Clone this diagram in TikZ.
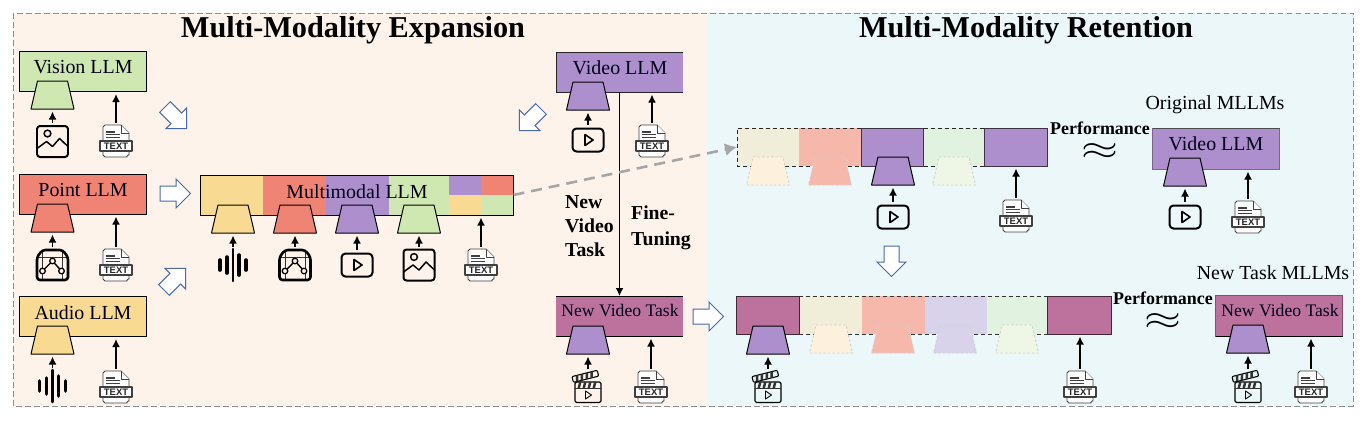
\documentclass[tikz,border=0pt]{standalone}
\usepackage{fontspec}
\setmainfont{Liberation Serif}
\newfontfamily\docfont{Liberation Sans}
\usetikzlibrary{arrows.meta}
\definecolor{cgreen}{HTML}{CFE8B2}
\definecolor{cred}{HTML}{F08474}
\definecolor{cpurple}{HTML}{AE8FCE}
\definecolor{cyellow}{HTML}{F9DA92}
\definecolor{cmag}{HTML}{BC729C}
\definecolor{pyellow}{HTML}{F0EED8}
\definecolor{ptrap}{HTML}{FDF1DE}
\definecolor{ppink}{HTML}{F7B8AC}
\definecolor{plav}{HTML}{D8D2EA}
\definecolor{pgreen}{HTML}{E2F2E0}
\definecolor{pgtrap}{HTML}{EEF6E6}
\definecolor{bgl}{HTML}{FEF3EB}
\definecolor{bgr}{HTML}{ECF7F9}
\definecolor{hollowblue}{HTML}{4A6AA5}
\tikzset{
  x=1bp,y=-1bp,
  llmbox/.style={draw=black,line width=1pt,inner sep=0pt,outer sep=0pt,minimum width=127bp,minimum height=40bp,fill=#1},
  softbox/.style={draw=#1!70!black,line width=.7pt,inner sep=0pt,outer sep=0pt,minimum width=127bp,minimum height=41bp,fill=#1},
  llmtext/.style={font=\fontsize{20}{20}\selectfont,inner sep=0pt,text=black!90!blue},
  tasktext/.style={font=\fontsize{17.7}{17.7}\selectfont,inner sep=0pt,text=black!90!blue},
  seg/.style={inner sep=0pt,outer sep=0pt,fill=#1},
  fullseg/.style={draw=#1!35!black,line width=1pt,inner sep=0pt,outer sep=0pt,fill=#1},
  boldlab/.style={font=\fontsize{19.8}{24}\selectfont\bfseries,inner sep=0pt,align=left,anchor=west},
  perf/.style={font=\fontsize{18}{18}\selectfont\bfseries,inner sep=0pt},
  apx/.style={font=\fontsize{20}{20}\selectfont,inner sep=0pt,xscale=2.3,yscale=1.6,transform shape},
  arr/.style={-{Latex[length=8bp,width=8bp]},line width=1.6pt,black,shorten >=2.5bp,shorten <=2.5bp},
  trapline/.style={draw=black,line width=1pt,line join=round},
  ghostline/.style={draw=black!18,line width=.8pt,dash pattern=on 2.5bp off 2bp},
  iconline/.style={draw=black,line width=2pt,line join=round,line cap=round},
  docline/.style={draw=black!75,line width=.9pt,line join=round},
  hollowarr/.style={draw=hollowblue,line width=1pt,fill=white,line join=miter},
}
\newcommand{\traph}[5]{%
  \path[#5,fill=#4] (#2-15,#3) -- (#2+15,#3) -- (#2+21.5,#3+28) -- (#2-21.5,#3+28) -- cycle;
  \node[inner sep=0pt,outer sep=0pt,minimum width=43bp,minimum height=28bp] (#1) at (#2,#3+14) {};}
\newcommand{\docicon}[3]{%
  \node[inner sep=0pt,outer sep=0pt,minimum width=32bp,minimum height=32bp] (#1) at (#2,#3) {};
  \begin{scope}[shift={(#2,#3)}]
    \path[docline,fill=white] (-13,-1) -- (-13,-14) to[out=-90,in=180] (-11,-16) -- (5,-16) -- (13,-8) -- (13,-1);
    \path[docline,fill=white] (5,-16) -- (5,-8) -- (13,-8);
    \draw[black!75,line width=1.5pt] (-10,-9) -- (-1,-9);
    \draw[black!75,line width=1pt] (-10,-6.5) -- (4,-6.5) (-10,-4) -- (4,-4);
    \path[docline,fill=white] (-13,10) -- (-13,14) to[out=90,in=180] (-11,16) -- (11,16) to[out=180,in=90] (13,14) -- (13,10);
    \path[docline,fill=white,line width=1.1pt] (-16,0) rectangle (16,10);
    \node[inner sep=0pt,font=\docfont\bfseries\fontsize{9.5}{9.5}\selectfont,text=black!85] (#1t) at (0,5.2) {TEXT};
  \end{scope}}
\newcommand{\imgicon}[3]{%
  \node[inner sep=0pt,outer sep=0pt,minimum width=32bp,minimum height=32bp] (#1) at (#2,#3) {};
  \begin{scope}[shift={(#2,#3)}]
    \draw[iconline,rounded corners=3bp] (-15.5,-15.5) -- (15.5,-15.5) -- (15.5,15.5) -- (-15.5,15.5) -- cycle;
    \draw[iconline,line width=1.5pt] (-5,-8) circle (3.4);
    \draw[iconline,line width=1.5pt] (-15.5,7) -- (-6,0) -- (0,5) -- (7,-3) -- (15.5,5);
  \end{scope}}
\newcommand{\playicon}[3]{%
  \node[inner sep=0pt,outer sep=0pt,minimum width=32bp,minimum height=26bp] (#1) at (#2,#3) {};
  \begin{scope}[shift={(#2,#3)}]
    \draw[iconline,rounded corners=4bp] (-15.5,-11.5) -- (15.5,-11.5) -- (15.5,11.5) -- (-15.5,11.5) -- cycle;
    \draw[iconline,line width=1.6pt] (-3,-5.5) -- (5,0) -- (-3,5.5) -- cycle;
  \end{scope}}
\newcommand{\pointicon}[3]{%
  \node[inner sep=0pt,outer sep=0pt,minimum width=32bp,minimum height=32bp] (#1) at (#2,#3) {};
  \begin{scope}[shift={(#2,#3)}]
    \draw[black!80,line width=.8pt] (-15,-8) -- (15,-8) (-10,-15) -- (-10,15) (10,-15) -- (10,15);
    \draw[iconline,line width=2.6pt,rounded corners=3bp] (-10,-15) -- (10,-15) -- (15.5,-8) -- (15.5,15) -- (-15.5,15) -- (-15.5,-8) -- cycle;
    \draw[iconline,line width=1.4pt] (-10,6) -- (0,-4) -- (9,6);
    \draw[iconline,line width=1.3pt,fill=bgl] (-10,6) circle (2.8) (0,-4) circle (2.8) (9,6) circle (2.8);
  \end{scope}}
\newcommand{\audioicon}[3]{%
  \node[inner sep=0pt,outer sep=0pt,minimum width=30bp,minimum height=32bp] (#1) at (#2,#3) {};
  \begin{scope}[shift={(#2,#3)}]
    \draw[black,line width=3.6pt,line cap=round] (-13,-5) -- (-13,5) (13,-5) -- (13,5) (-6,-8) -- (-6,8) (6,-10) -- (6,10);
    \draw[black,line width=2.6pt,line cap=round] (0,-16) -- (0,16);
  \end{scope}}
\newcommand{\clapicon}[3]{%
  \node[inner sep=0pt,outer sep=0pt,minimum width=30bp,minimum height=32bp] (#1) at (#2,#3) {};
  \begin{scope}[shift={(#2,#3)}]
    \begin{scope}[rotate=14]
      \draw[iconline,line width=1.1pt,rounded corners=1bp] (-13,-14) rectangle (13,-8);
      \foreach \q in {-9,-4,1,6}{\fill[black!80] (\q,-14) -- (\q+2.5,-14) -- (\q+1,-8) -- (\q-1.5,-8) -- cycle;}
    \end{scope}
    \draw[iconline,line width=1.1pt,rounded corners=1.5bp] (-13,-5) -- (13,-5) -- (13,15.5) -- (-13,15.5) -- cycle;
    \draw[black!80,line width=.9pt] (-13,1) -- (13,1);
    \foreach \q in {-9,-4,1,6}{\fill[black!80] (\q,-5) -- (\q+2.5,-5) -- (\q+1,1) -- (\q-1.5,1) -- cycle;}
    \draw[iconline,line width=.9pt] (-2.5,4) -- (3.5,8) -- (-2.5,12) -- cycle;
  \end{scope}}
\newcommand{\hollow}[4]{%
  \begin{scope}[shift={(#2,#3)},rotate=#4]
    \path[hollowarr] (0,-7.5) -- (16,-7.5) -- (16,-14.5) -- (30.5,0) -- (16,14.5) -- (16,7.5) -- (0,7.5) -- cycle;
    \coordinate (#1) at (15,0);
  \end{scope}}
\begin{document}
\begin{tikzpicture}
\useasboundingbox (0,0) rectangle (1368,424);
\fill[white] (0,0) rectangle (1368,424);
\fill[bgl] (13,13) rectangle (708,406);
\fill[bgr] (708,13) rectangle (1353,406);
\draw[black!45,line width=1pt,dash pattern=on 5.5bp off 3.5bp] (13,13) rectangle (1353,406);
\node[font=\fontsize{30.4}{30.4}\selectfont\bfseries,inner sep=0pt] (t1) at (353,30) {Multi-Modality Expansion};
\node[font=\fontsize{30.4}{30.4}\selectfont\bfseries,inner sep=0pt] (t2) at (1026,30) {Multi-Modality Retention};

% ---- left LLMs
\node[llmbox=cgreen] (vis) at (83,71.5) {};
\node[llmtext] (visL) at (83,67) {Vision LLM};
\traph{visT}{52.5}{81}{cgreen}{trapline}
\imgicon{visI}{52.5}{141.5}
\docicon{visD}{116}{141}
\draw[arr] (visI) -- (visT);
\draw[arr] (visD.north) -- (visD.north |- vis.south);

\node[llmbox=cred] (pnt) at (83,194) {};
\node[llmtext] (pntL) at (83,190) {Point LLM};
\traph{pntT}{52.5}{204}{cred}{trapline}
\pointicon{pntI}{52.5}{265}
\docicon{pntD}{116}{265}
\draw[arr] (pntI) -- (pntT);
\draw[arr] (pntD.north) -- (pntD.north |- pnt.south);

\node[llmbox=cyellow] (aud) at (83,316.5) {};
\node[llmtext] (audL) at (83,312.5) {Audio LLM};
\traph{audT}{52.5}{326}{cyellow}{trapline}
\audioicon{audI}{52.5}{386}
\docicon{audD}{116}{387}
\draw[arr] (audI) -- (audT);
\draw[arr] (audD.north) -- (audD.north |- aud.south);

\hollow{h1}{165}{107}{-45}
\hollow{h2}{160}{193.5}{0}
\hollow{h3}{164}{290}{45}

% ---- multimodal
\fill[cyellow] (200,175) rectangle (263,215);
\fill[cred] (263,175) rectangle (326,215);
\fill[cpurple] (326,175) rectangle (389,215);
\fill[cgreen] (389,175) rectangle (449,215);
\fill[cpurple] (449,175) rectangle (481,195);
\fill[cred] (481,175) rectangle (513.5,195);
\fill[cyellow] (449,195) rectangle (481,215);
\fill[cgreen] (481,195) rectangle (513.5,215);
\node[draw=black,line width=1pt,inner sep=0pt,outer sep=0pt,minimum width=313.5bp,minimum height=40bp] (mm) at (356.75,195) {};
\node[llmtext] (mmL) at (357,192) {Multimodal LLM};
\traph{m1}{233}{205}{cyellow}{trapline}
\traph{m2}{295}{205}{cred}{trapline}
\traph{m3}{357}{205}{cpurple}{trapline}
\traph{m4}{419}{205}{cgreen}{trapline}
\audioicon{mI1}{233}{265}
\pointicon{mI2}{295}{265}
\playicon{mI3}{357}{265}
\imgicon{mI4}{419}{265}
\docicon{mD}{481}{265}
\draw[arr] (mI1) -- (m1);
\draw[arr] (mI2) -- (m2);
\draw[arr] (mI3) -- (m3);
\draw[arr] (mI4) -- (m4);
\draw[arr] (mD.north) -- (mD.north |- mm.south);

% ---- video column
\path[fill=cpurple] (556,52) rectangle (683,92);
\draw[black!85,line width=1pt] (683,52) -- (556,52) -- (556,92) -- (683,92);
\node[inner sep=0pt,outer sep=0pt,minimum width=127bp,minimum height=40bp] (vid) at (619.5,72) {};
\node[llmtext] (vidL) at (620,68) {Video LLM};
\traph{vidT}{588}{82}{cpurple}{trapline}
\playicon{vidI}{588}{140}
\docicon{vidD}{652}{141}
\draw[arr] (vidI) -- (vidT);
\draw[arr] (vidD.north) -- (vidD.north |- vid.south);

\node[llmbox=cmag,draw=none] (nvt) at (619.5,316) {};
\draw[black,line width=1pt] (nvt.north west) -- (nvt.north east) (nvt.south west) -- (nvt.south east);
\node[tasktext] (nvtL) at (620,311) {New Video Task};
\traph{nvtT}{588}{326}{cpurple}{trapline}
\clapicon{nvtI}{588}{387}
\docicon{nvtD}{651}{387}
\draw[arr] (nvtI) -- (nvtT);
\draw[arr] (nvtD.north) -- (nvtD.north |- nvt.south);
\draw[arr,line width=1.7pt,shorten >=0bp,shorten <=0bp] (vid.south) -- (nvt.north);
\node[boldlab] (l1) at (565,226) {New\\Video\\Task};
\node[boldlab,font=\fontsize{19.8}{26}\selectfont\bfseries] (l2) at (631,228) {Fine-\\Tuning};
\hollow{h4}{541}{109}{-135}
\hollow{h5}{693}{316.5}{0}

% ---- retention row 1
\node[seg=pyellow,minimum width=62bp,minimum height=38bp] (r1) at (768,147) {};
\node[seg=ppink,minimum width=62bp,minimum height=38bp] (r2) at (830,147) {};
\node[seg=pgreen,minimum width=62bp,minimum height=38bp] (r4) at (954.5,147) {};
\draw[black!85,line width=.9pt,dash pattern=on 4bp off 3bp] (r2.north east) -- (r1.north west) -- (r1.south west) -- (r2.south east) (r4.north west) -- (r4.north east) (r4.south west) -- (r4.south east);
\node[fullseg=cpurple,minimum width=62.5bp,minimum height=38bp] (r3) at (892.5,147) {};
\node[fullseg=cpurple,minimum width=62.5bp,minimum height=38bp] (r5) at (1016,147) {};
\traph{rT1}{768}{157}{ptrap}{ghostline}
\traph{rT2}{830}{157}{ppink}{ghostline}
\traph{rT3}{893}{157}{cpurple}{trapline}
\traph{rT4}{954}{157}{pgtrap}{ghostline}
\playicon{rI}{893}{217}
\docicon{rD}{1016}{216}
\draw[arr] (rI) -- (rT3);
\draw[arr] (rD.north) -- (rD.north |- r5.south);
\draw[black!35,line width=2.6pt,dash pattern=on 11bp off 7bp,-{Latex[length=12bp,width=13bp]}] (mm.east) -- (r1.west);
\node[perf] (p1) at (1100,128) {Performance};
\node[apx] (a1) at (1100,152) {$\approx$};
\node[font=\fontsize{20}{20}\selectfont,inner sep=0pt] (c1) at (1215,105) {Original MLLMs};
\node[softbox=cpurple] (rv) at (1216,148.5) {};
\draw[black!70,line width=1pt] (rv.north west) -- (rv.north east);
\node[llmtext] (rvL) at (1216,144) {Video LLM};
\traph{rvT}{1185}{158}{cpurple}{trapline}
\playicon{rvI}{1185}{217}
\docicon{rvD}{1248}{217}
\draw[arr] (rvI) -- (rvT);
\draw[arr] (rvD.north) -- (rvD.north |- rv.south);

\hollow{h6}{891.5}{246}{-90}

% ---- retention row 2
\node[seg=pyellow,minimum width=63bp,minimum height=38bp] (s2) at (830.5,315) {};
\node[seg=ppink,minimum width=63bp,minimum height=38bp] (s3) at (893.5,315) {};
\node[seg=plav,minimum width=62bp,minimum height=38bp] (s4) at (956,315) {};
\node[seg=pgreen,minimum width=61bp,minimum height=38bp] (s5) at (1017.5,315) {};
\draw[black!80,line width=.9pt,dash pattern=on 4bp off 3bp] (s2.north west) -- (s5.north east) (s2.south west) -- (s5.south east);
\node[fullseg=cmag,minimum width=62.5bp,minimum height=38bp] (s1) at (768,315) {};
\node[fullseg=cmag,minimum width=63.5bp,minimum height=38bp] (s6) at (1079.5,315) {};
\traph{sT1}{768}{326}{cpurple}{trapline}
\traph{sT2}{831}{325}{ptrap}{ghostline}
\traph{sT3}{893}{325}{ppink}{ghostline}
\traph{sT4}{955}{325}{plav}{ghostline}
\traph{sT5}{1017}{325}{pgtrap}{ghostline}
\clapicon{sI}{768}{387}
\docicon{sD}{1080}{387}
\draw[arr] (sI) -- (sT1);
\draw[arr] (sD.north) -- (sD.north |- s6.south);
\node[perf] (p2) at (1163,298) {Performance};
\node[apx] (a2) at (1163,322) {$\approx$};
\node[font=\fontsize{20}{20}\selectfont,inner sep=0pt] (c2) at (1273,273) {New Task MLLMs};
\node[softbox=cmag] (rn) at (1279,315.5) {};
\draw[black,line width=1pt] (rn.south west) -- (rn.south east);
\node[tasktext] (rnL) at (1280,311) {New Video Task};
\traph{rnT}{1248}{325}{cpurple}{trapline}
\clapicon{rnI}{1248}{387}
\docicon{rnD}{1311}{387}
\draw[arr] (rnI) -- (rnT);
\draw[arr] (rnD.north) -- (rnD.north |- rn.south);
\end{tikzpicture}
\end{document}
